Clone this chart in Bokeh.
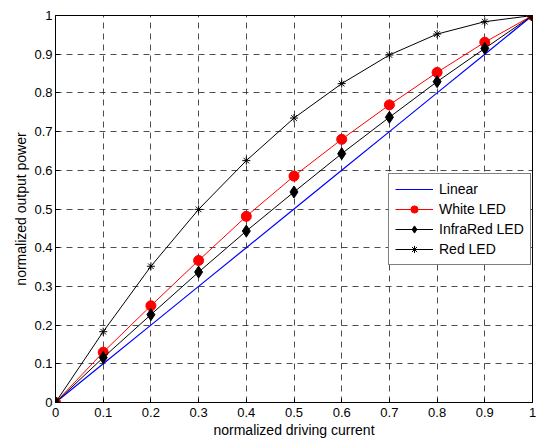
from bokeh.plotting import figure
from bokeh.embed import file_html
from bokeh.resources import INLINE
from bokeh.models import FixedTicker, CustomJSTickFormatter, Legend, LegendItem, Range1d

x = [0, 0.1, 0.2, 0.3, 0.4, 0.5, 0.6, 0.7, 0.8, 0.9, 1.0]
linear = [0, 0.1, 0.2, 0.3, 0.4, 0.5, 0.6, 0.7, 0.8, 0.9, 1.0]
white_led = [0, 0.13, 0.25, 0.367, 0.481, 0.585, 0.680, 0.769, 0.853, 0.931, 1.0]
infrared_led = [0, 0.116, 0.227, 0.337, 0.443, 0.544, 0.643, 0.737, 0.829, 0.915, 1.0]
red_led = [0, 0.183, 0.352, 0.499, 0.625, 0.735, 0.824, 0.898, 0.952, 0.984, 1.0]
ticks = [0, 0.1, 0.2, 0.3, 0.4, 0.5, 0.6, 0.7, 0.8, 0.9, 1.0]

p = figure(width=538, height=441, output_backend="svg", toolbar_location=None,
           x_range=Range1d(0, 1), y_range=Range1d(0, 1),
           min_border_left=55, min_border_right=6, min_border_top=15, min_border_bottom=39)
p.outline_line_color = "black"
p.outline_line_width = 1

fmt = CustomJSTickFormatter(code="return (Math.round(tick*10)/10).toString();")
for ax in (p.xaxis[0], p.yaxis[0]):
    ax.ticker = FixedTicker(ticks=ticks)
    ax.formatter = fmt
    ax.major_tick_in = 4
    ax.major_tick_out = 0
    ax.minor_tick_line_color = None
    ax.axis_line_color = "black"
    ax.major_label_text_font = "Liberation Sans"
    ax.major_label_text_font_size = "13px"
    ax.major_label_text_color = "black"
    ax.axis_label_text_font = "Liberation Sans"
    ax.axis_label_text_font_size = "14px"
    ax.axis_label_text_font_style = "normal"
    ax.axis_label_text_color = "black"
    ax.axis_label_standoff = 2

p.xaxis.axis_label = "normalized driving current"
p.yaxis.axis_label = "normalized output power"
p.xaxis.major_label_standoff = 5
p.yaxis.major_label_standoff = 3

for g in (p.xgrid[0], p.ygrid[0]):
    g.grid_line_color = "#222222"
    g.grid_line_alpha = 0.8
    g.grid_line_dash = "6 5"
    g.grid_line_width = 1

r_lin = p.line(x, linear, line_color="#0000ff", line_width=1.2)
r_wl = p.line(x, white_led, line_color="red", line_width=1)
r_wm = p.scatter(x, white_led, marker="circle", size=10, fill_color="red", line_color="red")
r_il = p.line(x, infrared_led, line_color="black", line_width=1)
r_im = p.scatter(x, infrared_led, marker="diamond", size=12, fill_color="black", line_color="black")
r_rl = p.line(x, red_led, line_color="black", line_width=1)
r_rm = p.scatter(x, red_led, marker="asterisk", size=8, line_color="black", line_width=1)

legend = Legend(items=[
    LegendItem(label="Linear", renderers=[r_lin]),
    LegendItem(label="White LED", renderers=[r_wl, r_wm]),
    LegendItem(label="InfraRed LED", renderers=[r_il, r_im]),
    LegendItem(label="Red LED", renderers=[r_rl, r_rm]),
], location=(333, 137.5))
legend.border_line_color = "black"
legend.border_line_width = 1
legend.background_fill_color = "white"
legend.background_fill_alpha = 1
legend.label_text_font = "Liberation Sans"
legend.label_text_font_size = "14px"
legend.label_text_color = "black"
legend.glyph_width = 38
legend.glyph_height = 18
legend.label_height = 18
legend.spacing = 2
legend.padding = 6
legend.margin = 0
legend.label_standoff = 6
p.add_layout(legend, "center")

open("out.html", "w").write(file_html(p, INLINE))
